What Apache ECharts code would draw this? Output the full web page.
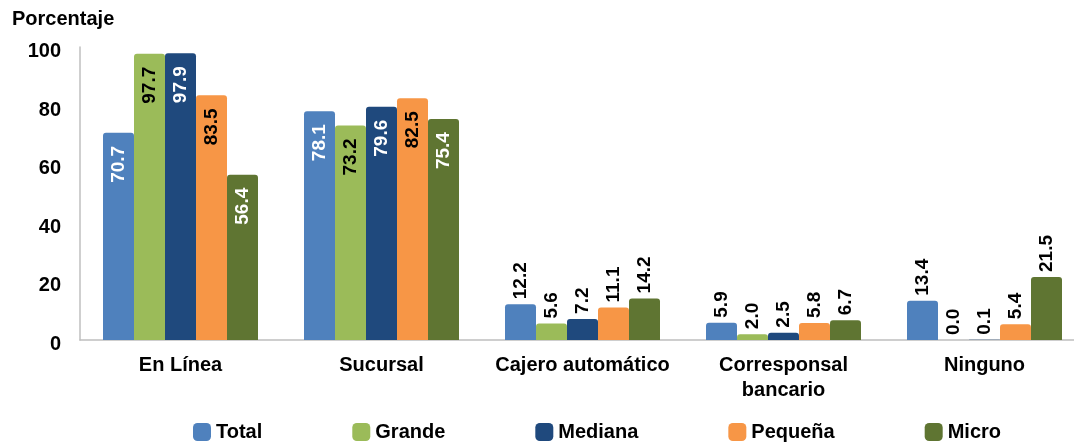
<!DOCTYPE html>
<html>
<head>
<meta charset="utf-8">
<script src="https://cdn.jsdelivr.net/npm/echarts@6/dist/echarts.min.js"></script>
<style>
html,body{margin:0;padding:0;background:#fff;overflow:hidden;}
#chart{width:1090px;height:442px;}
</style>
</head>
<body>
<div id="chart"></div>
<script>
const categories = ['En Línea', 'Sucursal', 'Cajero automático', 'Corresponsal\nbancario', 'Ninguno'];
const seriesNames = ['Total', 'Grande', 'Mediana', 'Pequeña', 'Micro'];
const total   = [70.7, 78.1, 12.2, 5.9, 13.4];
const grande  = [97.7, 73.2, 5.6, 2.0, 0.0];
const mediana = [97.9, 79.6, 7.2, 2.5, 0.1];
const pequena = [83.5, 82.5, 11.1, 5.8, 5.4];
const micro   = [56.4, 75.4, 14.2, 6.7, 21.5];
const yTicks = [0, 20, 40, 60, 80, 100];

const colors = ['#4F81BD', '#9BBB59', '#1F497D', '#F79646', '#5F7532'];
const insideLabelColors = ['#fff', '#000', '#fff', '#000', '#fff'];
const allValues = [total, grande, mediana, pequena, micro];
const FONT = 'Liberation Sans, Arial, sans-serif';

const series = allValues.map((vals, si) => ({
  name: seriesNames[si],
  type: 'bar',
  barWidth: 31,
  barGap: '0%',
  itemStyle: { color: colors[si], borderRadius: [3, 3, 0, 0] },
  data: vals.map(v => {
    const inside = v > 40;
    return {
      value: v,
      label: inside ? {
        show: true, position: 'insideTop', rotate: 90, align: 'right', verticalAlign: 'middle',
        distance: 13, color: insideLabelColors[si]
      } : {
        show: true, position: 'top', rotate: 90, align: 'left', verticalAlign: 'middle',
        distance: 5, color: '#000'
      }
    };
  }),
  label: {
    show: true, fontFamily: FONT, fontWeight: 'bold', fontSize: 19,
    formatter: p => p.value.toFixed(1)
  }
}));

const chart = echarts.init(document.getElementById('chart'), null, { renderer: 'canvas' });
chart.setOption({
  animation: false,
  color: colors,
  title: {
    text: 'Porcentaje', left: 12, top: 9, padding: 0,
    textStyle: { fontFamily: FONT, fontWeight: 'bold', fontSize: 20, color: '#000' }
  },
  legend: {
    data: seriesNames, left: 193, top: 422, padding: 0, itemWidth: 18, itemHeight: 18, itemGap: 90,
    icon: 'roundRect',
    textStyle: { fontFamily: FONT, fontWeight: 'bold', fontSize: 20, color: '#000' }
  },
  grid: { left: 80, right: 5, top: 47, bottom: 102, containLabel: false },
  xAxis: {
    type: 'category', data: categories,
    axisLine: { lineStyle: { color: '#BFBFBF', width: 1.5 } },
    axisTick: { show: false },
    axisLabel: { interval: 0, fontFamily: FONT, fontWeight: 'bold', fontSize: 20, color: '#000', margin: 13, lineHeight: 25 }
  },
  yAxis: {
    type: 'value', min: yTicks[0], max: yTicks[yTicks.length - 1], interval: 20,
    splitLine: { show: false },
    axisLine: { show: true, lineStyle: { color: '#BFBFBF', width: 1.5 } },
    axisTick: { show: false },
    axisLabel: { fontFamily: FONT, fontWeight: 'bold', fontSize: 20, color: '#000', margin: 19,
      verticalAlign: 'top', lineHeight: 9 }
  },
  series: series
});
</script>
</body>
</html>
